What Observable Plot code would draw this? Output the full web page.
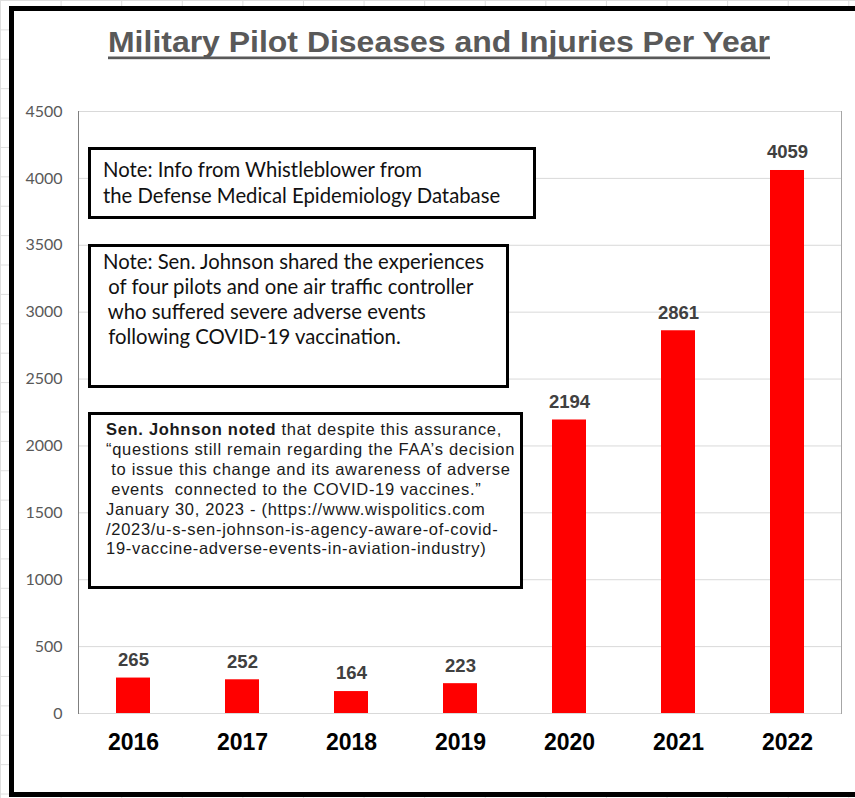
<!DOCTYPE html>
<html>
<head>
<meta charset="utf-8">
<script src="https://cdn.jsdelivr.net/npm/d3@7"></script>
<script src="https://cdn.jsdelivr.net/npm/@observablehq/plot@0.6"></script>
<style>
  html, body { margin: 0; padding: 0; }
  body {
    width: 855px; height: 798px; overflow: hidden; position: relative;
    background-color: #fff;
    background-image:
      linear-gradient(to right, #dedede 1px, transparent 1px),
      linear-gradient(to bottom, #dedede 1px, transparent 1px);
    background-size: 60.6px 29.4px;
  }
  #frame {
    position: absolute; left: 9px; top: 6px; width: 900px; height: 781px;
    border: 5px solid #000; background: #fff;
  }
  #title { position: absolute; left: 0; top: 0; }
  #chart { position: absolute; left: 0; top: 0; }
  .note {
    position: absolute; box-sizing: border-box; border: 3px solid #000;
    background: #fff; color: #111;
  }
  .note .ln { white-space: pre; }
  #note1 { left: 88px; top: 147px; width: 448px; height: 72px;
    font-family: Lato, "Open Sans", sans-serif; font-size: 20.3px; line-height: 26px;
    padding: 6px 0 0 12px; }
  #note2 { left: 88px; top: 244px; width: 421px; height: 144px;
    font-family: Lato, "Open Sans", sans-serif; font-size: 20.3px; line-height: 25px;
    padding: 2px 0 0 12px; }
  #note3 { left: 88px; top: 412px; width: 435px; height: 177px;
    font-family: "Liberation Sans", Arial, sans-serif; font-size: 16.5px; line-height: 19.9px;
    letter-spacing: 0.7px; padding: 5px 0 0 15px; color: #1a1a1a; }
</style>
</head>
<body>
<div id="frame"></div>
<svg id="title" width="855" height="80"></svg>
<div id="chart"></div>
<div id="note1" class="note"></div>
<div id="note2" class="note"></div>
<div id="note3" class="note"></div>
<script>
// ---- data ----
const titleText = "Military Pilot Diseases and Injuries Per Year";
const years = ["2016", "2017", "2018", "2019", "2020", "2021", "2022"];
const counts = [265, 252, 164, 223, 2194, 2861, 4059];
const yTicks = [0, 500, 1000, 1500, 2000, 2500, 3000, 3500, 4000, 4500];
const note1Lines = [
  "Note: Info from Whistleblower from",
  "the Defense Medical Epidemiology Database"
];
const note2Lines = [
  "Note: Sen. Johnson shared the experiences",
  " of four pilots and one air traffic controller",
  " who suffered severe adverse events",
  " following COVID-19 vaccination."
];
const note3Bold = "Sen. Johnson noted";
const note3Lines = [
  " that despite this assurance,",
  "\u201Cquestions still remain regarding the FAA\u2019s decision",
  " to issue this change and its awareness of adverse",
  " events  connected to the COVID-19 vaccines.\u201D",
  "January 30, 2023 - (https://www.wispolitics.com",
  "/2023/u-s-sen-johnson-is-agency-aware-of-covid-",
  "19-vaccine-adverse-events-in-aviation-industry)"
];

const rows = years.map((year, i) => ({year, count: counts[i]}));

// ---- title ----
const tsvg = d3.select("#title");
tsvg.append("text")
  .attr("x", 108).attr("y", 52)
  .attr("textLength", 662).attr("lengthAdjust", "spacingAndGlyphs")
  .attr("font-family", "'Liberation Sans', Arial, sans-serif")
  .attr("font-weight", "bold").attr("font-size", 30)
  .attr("fill", "#595959")
  .text(titleText);
tsvg.append("rect")
  .attr("x", 108).attr("y", 56.5).attr("width", 662).attr("height", 2.7)
  .attr("fill", "#595959");

// ---- chart ----
const font = "'Liberation Sans', Arial, sans-serif";
const chart = Plot.plot({
  width: 855,
  height: 798,
  marginLeft: 78,
  marginRight: 14,
  marginTop: 111,
  marginBottom: 85,
  style: {background: "transparent", overflow: "visible"},
  x: {domain: years, paddingInner: 0.69, paddingOuter: 0.345, label: null},
  y: {domain: [0, 4500], label: null},
  marks: [
    Plot.ruleY(yTicks, {stroke: "#d9d9d9", strokeWidth: 1}),
    Plot.frame({anchor: "left", stroke: "#7f7f7f"}),
    Plot.frame({anchor: "right", stroke: "#a6a6a6"}),
    Plot.barY(rows, {x: "year", y: "count", fill: "#ff0000"}),
    Plot.text(rows, {
      x: "year", y: "count", text: d => String(d.count),
      dy: -18, lineAnchor: "middle", fontWeight: "bold", fontSize: 18.5,
      fill: "#404040", fontFamily: font
    }),
    Plot.axisY({
      ticks: yTicks, tickFormat: d => String(d), tickSize: 0, tickPadding: 16, label: null,
      fontSize: 16, fontFamily: "Lato, 'Open Sans', sans-serif", fill: "#595959"
    }),
    Plot.axisX({
      tickSize: 0, tickPadding: 20, label: null,
      fontSize: 23, fontWeight: "bold", fontFamily: font, fill: "#000"
    })
  ]
});
document.getElementById("chart").appendChild(chart);

// ---- notes ----
function addLines(sel, lines) {
  d3.select(sel).selectAll("div.ln").data(lines).join("div")
    .attr("class", "ln").text(d => d);
}
addLines("#note1", note1Lines);
addLines("#note2", note2Lines);
const n3 = d3.select("#note3");
const first = n3.append("div").attr("class", "ln");
first.append("b").text(note3Bold);
first.append("span").text(note3Lines[0]);
note3Lines.slice(1).forEach(l => n3.append("div").attr("class", "ln").text(l));
</script>
</body>
</html>
